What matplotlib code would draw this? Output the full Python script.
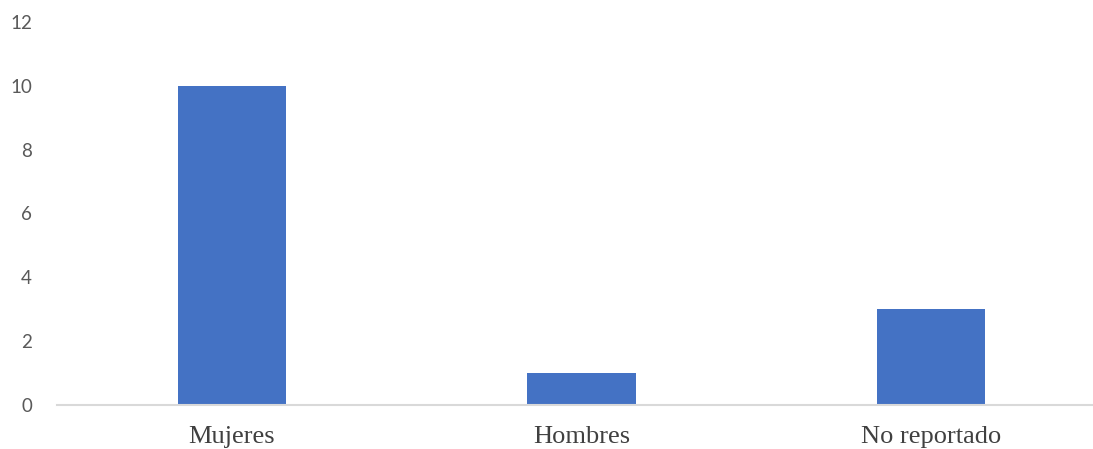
import matplotlib.pyplot as plt

categories = ["Mujeres", "Hombres", "No reportado"]
values = [10, 1, 3]
y_ticks = [0, 2, 4, 6, 8, 10, 12]

fig = plt.figure(figsize=(10.93, 4.49), dpi=100)
ax = fig.add_axes([57/1093, 1 - 405/449, (1106 - 57)/1093, (405 - 22)/449])

ax.bar(range(len(categories)), values, width=0.31, color="#4472C4")

ax.set_xlim(-0.5, 2.5)
ax.set_ylim(0, 12)
ax.set_yticks(y_ticks)
ax.set_yticklabels([str(t) for t in y_ticks], family="Lato", fontsize=13.5, color="#595959")
ax.set_xticks(range(len(categories)))
ax.set_xticklabels(categories, family="Liberation Serif", fontsize=19, color="#404040")
ax.tick_params(axis="y", length=0, pad=18)
ax.tick_params(axis="x", length=0, pad=15)

for s in ["top", "right", "left"]:
    ax.spines[s].set_visible(False)
ax.spines["bottom"].set_color("#D9D9D9")
ax.spines["bottom"].set_linewidth(1.5)

fig.savefig("out.png", dpi=100)
